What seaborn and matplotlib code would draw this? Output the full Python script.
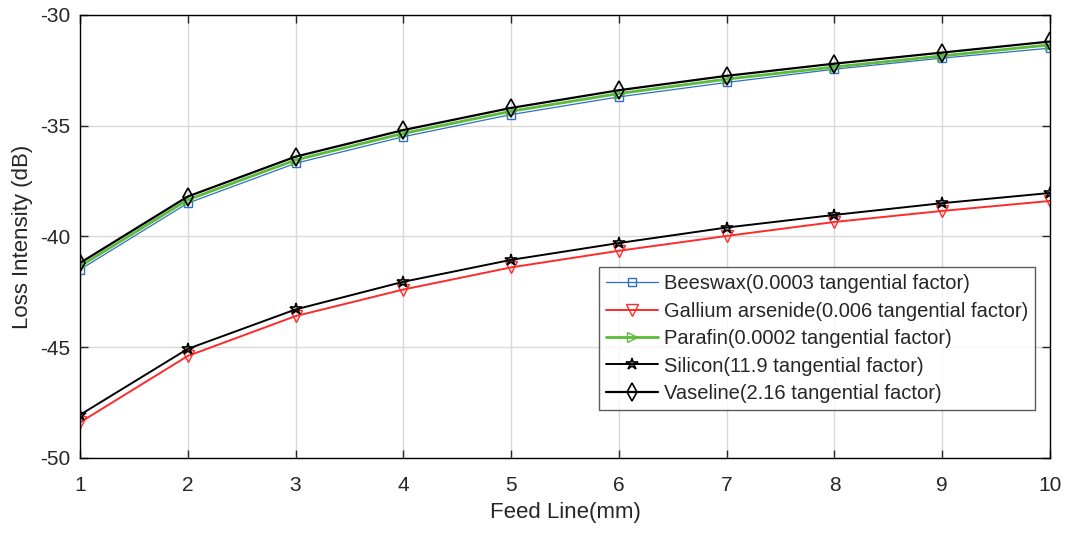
import numpy as np
import pandas as pd
import matplotlib
matplotlib.use("Agg")
import matplotlib.pyplot as plt
import seaborn as sns

feed_line = [1, 2, 3, 4, 5, 6, 7, 8, 9, 10]
beeswax = [-41.5, -38.5, -36.7, -35.5, -34.5, -33.7, -33.05, -32.45, -31.95, -31.5]
gallium = [-48.4, -45.4, -43.6, -42.4, -41.4, -40.65, -39.98, -39.35, -38.85, -38.4]
parafin = [-41.35, -38.35, -36.55, -35.35, -34.35, -33.55, -32.9, -32.35, -31.85, -31.35]
silicon = [-48.06, -45.08, -43.3, -42.05, -41.06, -40.3, -39.6, -39.03, -38.5, -38.04]
vaseline = [-41.2, -38.2, -36.4, -35.2, -34.2, -33.4, -32.75, -32.2, -31.7, -31.2]

labels = [
    "Beeswax(0.0003 tangential factor)",
    "Gallium arsenide(0.006 tangential factor)",
    "Parafin(0.0002 tangential factor)",
    "Silicon(11.9 tangential factor)",
    "Vaseline(2.16 tangential factor)",
]
series = [beeswax, gallium, parafin, silicon, vaseline]

sns.set_style("white")
plt.rcParams['font.family'] = ['Liberation Sans', 'DejaVu Sans']
plt.rcParams['axes.unicode_minus'] = False

fig = plt.figure(figsize=(10.66, 5.33), dpi=100)
ax = fig.add_axes([0.075, 0.141, 0.910, 0.831])

styles = [
    dict(color="#2f6fc0", marker="s", lw=0.9, ms=6, mfc="none", mew=1.0),
    dict(color="#ff2a2a", marker="v", lw=1.4, ms=8, mfc="none", mew=1.0),
    dict(color="#5cbb3a", marker=">", lw=2.0, ms=7, mfc="none", mew=1.0),
    dict(color="black", marker="*", lw=1.4, ms=9, mfc="none", mew=1.2),
    dict(color="black", marker="d", lw=1.6, ms=9, mfc="none", mew=1.2),
]

for lab, vals, st in zip(labels, series, styles):
    df = pd.DataFrame({"x": feed_line, "y": vals})
    sns.lineplot(data=df, x="x", y="y", ax=ax, label=lab,
                 color=st["color"], marker=st["marker"], linewidth=st["lw"],
                 markersize=st["ms"], markerfacecolor=st["mfc"],
                 markeredgecolor=st["color"], markeredgewidth=st["mew"])

ax.set_xlim(1, 10)
ax.set_ylim(-50, -30)
ax.set_xticks(range(1, 11))
ax.set_yticks([-50, -45, -40, -35, -30])
ax.grid(True, color="#d9d9d9", linewidth=1.0)
for s in ax.spines.values():
    s.set_visible(True)
    s.set_color("black")
    s.set_linewidth(1.0)
ax.tick_params(direction="in", length=6, labelsize=15, top=True, right=True,
               bottom=True, left=True, width=1.0, colors="#262626")
ax.tick_params(axis="x", pad=13)
ax.tick_params(axis="y", pad=7)
ax.set_xlabel("Feed Line(mm)", fontsize=16, labelpad=5, color="#262626")
ax.set_ylabel("Loss Intensity (dB)", fontsize=16, labelpad=5, color="#262626")

leg = ax.legend(loc="lower right", bbox_to_anchor=(0.985, 0.108), fontsize=14.5,
                frameon=True, fancybox=False, edgecolor="#333333",
                handlelength=2.6, handletextpad=0.3, borderpad=0.35,
                labelspacing=0.42, borderaxespad=0)
leg.get_frame().set_linewidth(1.0)

fig.savefig("out.png", dpi=100)
